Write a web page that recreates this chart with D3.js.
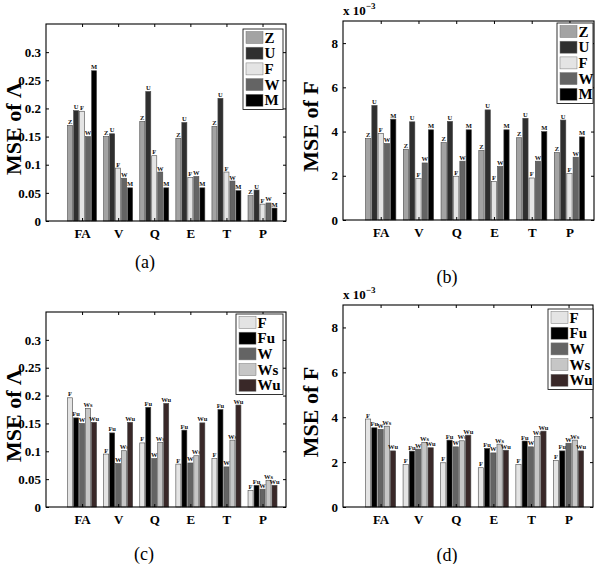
<!DOCTYPE html>
<html><head><meta charset="utf-8">
<script src="https://cdn.jsdelivr.net/npm/d3@7"></script>
<style>html,body{margin:0;padding:0;background:#fff}svg{display:block}</style>
</head><body>
<svg id="chart" width="600" height="564"></svg>
<script>
// ---------- data ----------
const categories = ["FA","V","Q","E","T","P"];
const seriesAB = ["Z","U","F","W","M"];
const seriesCD = ["F","Fu","W","Ws","Wu"];
const ticksLambda = [0,0.05,0.1,0.15,0.2,0.25,0.3];
const ticksF = [0,2,4,6,8];

// (a) MSE of Lambda
const aZ = [0.170,0.150,0.177,0.147,0.168,0.045];
const aU = [0.196,0.155,0.230,0.175,0.218,0.055];
const aF = [0.195,0.094,0.116,0.077,0.087,0.030];
const aW = [0.150,0.076,0.087,0.079,0.071,0.032];
const aM = [0.267,0.059,0.059,0.059,0.054,0.023];
// (b) MSE of F (x 10^-3)
const bZ = [3.68,3.20,3.50,3.15,3.72,3.05];
const bU = [5.18,4.44,4.46,4.98,4.60,4.52];
const bF = [3.92,1.88,1.98,1.75,1.90,2.10];
const bW = [3.46,2.58,2.66,2.42,2.66,2.84];
const bM = [4.56,4.08,4.08,4.08,4.00,3.76];
// (c) MSE of Lambda
const cF  = [0.196,0.095,0.115,0.077,0.087,0.030];
const cFu = [0.160,0.133,0.179,0.138,0.175,0.039];
const cW  = [0.150,0.078,0.087,0.079,0.072,0.032];
const cWs = [0.177,0.101,0.116,0.092,0.120,0.048];
const cWu = [0.152,0.152,0.186,0.151,0.183,0.039];
// (d) MSE of F (x 10^-3)
const dF  = [3.92,1.89,1.97,1.75,1.89,2.07];
const dFu = [3.53,2.49,2.98,2.61,2.94,2.50];
const dW  = [3.46,2.58,2.68,2.41,2.68,2.84];
const dWs = [3.60,2.88,2.95,2.80,3.15,2.98];
const dWu = [2.50,2.64,3.20,2.53,3.38,2.50];

// ---------- styles / layout ----------
const colorsAB = {Z:"#a3a3a3",U:"#2f2f2f",F:"#e4e4e4",W:"#646464",M:"#000000"};
const colorsCD = {F:"#e4e4e4",Fu:"#000000",W:"#646464",Ws:"#c6c6c6",Wu:"#392828"};
const SERIF = "'Liberation Serif','Times New Roman',serif";

const panels = [
  {id:"a", series:seriesAB, values:[aZ,aU,aF,aW,aM], colors:colorsAB, ymax:0.35, ticks:ticksLambda,
   ylabel:"MSE of Λ", exp:false, box:{l:46,r:286,t:24,b:221}, legend:{x:243,y:29,w:40},
   caption:"(a)", cx:145, cy:268},
  {id:"b", series:seriesAB, values:[bZ,bU,bF,bW,bM], colors:colorsAB, ymax:9, ticks:ticksF,
   ylabel:"MSE of F", exp:true, box:{l:343,r:594,t:21,b:220}, legend:{x:557,y:23,w:36},
   caption:"(b)", cx:447, cy:283},
  {id:"c", series:seriesCD, values:[cF,cFu,cW,cWs,cWu], colors:colorsCD, ymax:0.35, ticks:ticksLambda,
   ylabel:"MSE of Λ", exp:false, box:{l:46,r:286,t:312,b:507}, legend:{x:236,y:314,w:47},
   caption:"(c)", cx:144, cy:560},
  {id:"d", series:seriesCD, values:[dF,dFu,dW,dWs,dWu], colors:colorsCD, ymax:9, ticks:ticksF,
   ylabel:"MSE of F", exp:true, box:{l:343,r:593,t:305,b:507}, legend:{x:548,y:309,w:45},
   caption:"(d)", cx:447, cy:561}
];

const svg = d3.select("#chart");

panels.forEach(p => {
  const B = p.box;
  const g = svg.append("g");
  const x0 = d3.scaleBand().domain(categories).range([B.l,B.r])
    .paddingInner(0.17).paddingOuter(0.41).align(0.713);
  const x1 = d3.scaleBand().domain(p.series).range([0,x0.bandwidth()]).paddingInner(0.16).paddingOuter(0.08);
  const y = d3.scaleLinear().domain([0,p.ymax]).range([B.b,B.t]);
  const fmt = v => String(+v.toFixed(3));

  // bars
  const groups = g.selectAll("g.grp").data(categories).enter().append("g")
    .attr("transform", c => `translate(${x0(c)},0)`);
  groups.each(function(c, ci){
    const gg = d3.select(this);
    p.series.forEach((s, si) => {
      const v = p.values[si][ci];
      gg.append("rect")
        .attr("x", x1(s)).attr("width", x1.bandwidth())
        .attr("y", y(v)).attr("height", y(0)-y(v))
        .attr("fill", p.colors[s]).attr("stroke","#4a4a4a").attr("stroke-width",0.6);
      gg.append("text")
        .attr("x", x1(s)+x1.bandwidth()/2).attr("y", y(v)-1.5)
        .attr("text-anchor","middle")
        .attr("font-family",SERIF).attr("font-weight","bold").attr("font-size",6.5)
        .attr("fill","#111").text(s);
    });
  });

  // axes
  const tickFont = sel => sel.selectAll("text").attr("font-family",SERIF).attr("font-weight","bold")
      .attr("font-size",13).attr("fill","#000");
  const left = g.append("g").attr("transform",`translate(${B.l},0)`)
    .call(d3.axisLeft(y).tickValues(p.ticks).tickSize(-3).tickPadding(5).tickFormat(fmt));
  tickFont(left);
  const right = g.append("g").attr("transform",`translate(${B.r},0)`)
    .call(d3.axisRight(y).tickValues(p.ticks).tickSize(-3).tickFormat(""));
  const xc = d3.scalePoint().domain(categories)
    .range([x0(categories[0])+x0.bandwidth()/2, x0(categories[5])+x0.bandwidth()/2]);
  const bottom = g.append("g").attr("transform",`translate(0,${B.b})`)
    .call(d3.axisBottom(xc).tickSize(-3).tickPadding(8));
  tickFont(bottom);
  const top = g.append("g").attr("transform",`translate(0,${B.t})`)
    .call(d3.axisTop(xc).tickSize(-3).tickFormat(""));
  [left,right,bottom,top].forEach(a => {
    a.select(".domain").remove();
    a.selectAll("line").attr("stroke","#000").attr("stroke-width",1);
  });
  g.append("rect").attr("x",B.l).attr("y",B.t).attr("width",B.r-B.l).attr("height",B.b-B.t)
    .attr("fill","none").attr("stroke","#000").attr("stroke-width",1.1);

  // y label
  g.append("text")
    .attr("transform",`translate(${B.l-25},${(B.t+B.b)/2+6}) rotate(-90)`)
    .attr("text-anchor","middle").attr("font-family",SERIF).attr("font-weight","bold")
    .attr("font-size",22).attr("fill","#000").text(p.ylabel);

  // exponent
  if (p.exp) {
    const t = g.append("text").attr("x",B.l).attr("y",B.t-6)
      .attr("font-family",SERIF).attr("font-weight","bold").attr("font-size",13).attr("fill","#000");
    t.append("tspan").text("x 10");
    t.append("tspan").attr("dy",-6).attr("font-size",9).text("−3");
  }

  // legend
  const L = p.legend, rowH = 15.7;
  g.append("rect").attr("x",L.x).attr("y",L.y).attr("width",L.w).attr("height",rowH*5+2)
    .attr("fill","#fff").attr("stroke","#000").attr("stroke-width",0.8);
  p.series.forEach((s,i) => {
    const cy = L.y + 8.5 + i*rowH;
    g.append("rect").attr("x",L.x+3).attr("y",cy-6).attr("width",17).attr("height",12)
      .attr("fill",p.colors[s]).attr("stroke","#777").attr("stroke-width",0.5);
    g.append("text").attr("x",L.x+21.5).attr("y",cy+5)
      .attr("font-family",SERIF).attr("font-weight","bold").attr("font-size",15)
      .attr("fill","#000").text(s);
  });

  // caption
  svg.append("text").attr("x",p.cx).attr("y",p.cy).attr("text-anchor","middle")
    .attr("font-family",SERIF).attr("font-size",18).attr("fill","#000").text(p.caption);
});
</script>
</body></html>
